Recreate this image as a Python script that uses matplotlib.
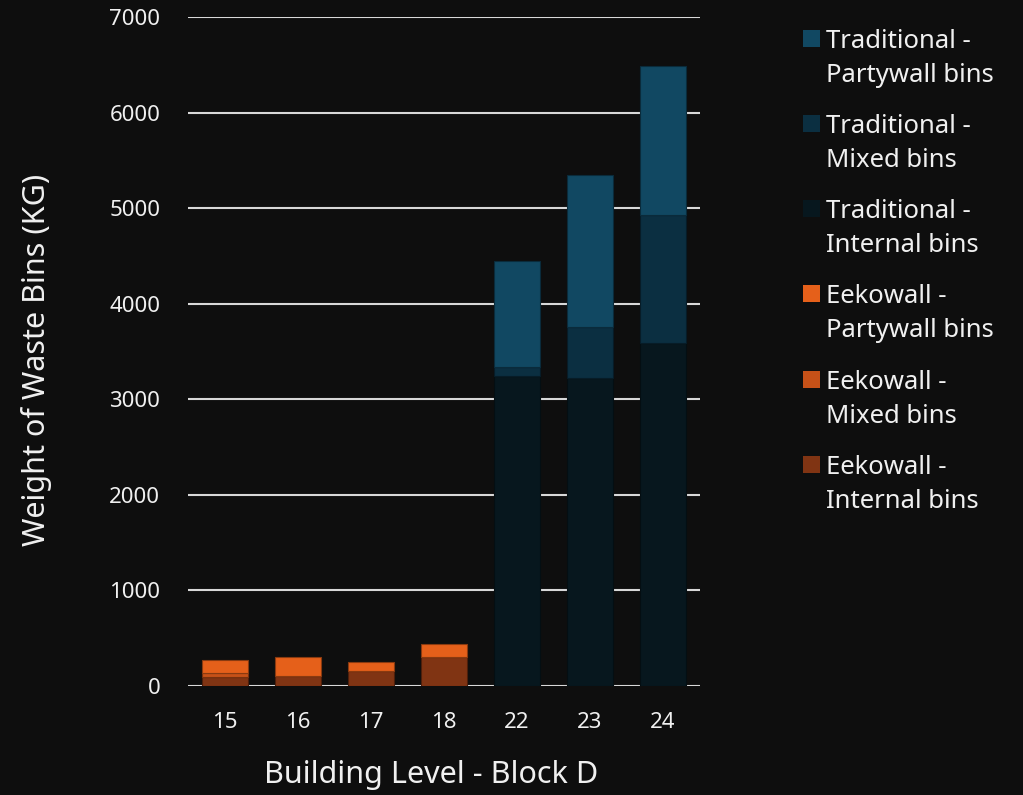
import matplotlib
matplotlib.use("Agg")
import matplotlib.pyplot as plt
from matplotlib.patches import Rectangle
import numpy as np

levels = ["15", "16", "17", "18", "22", "23", "24"]

eek_internal = [97, 100, 157, 300, 0, 0, 0]
eek_mixed = [42, 0, 0, 0, 0, 0, 0]
eek_partywall = [133, 207, 97, 136, 0, 0, 0]

trad_internal = [0, 0, 0, 0, 3243, 3222, 3585]
trad_mixed = [0, 0, 0, 0, 94, 533, 1345]
trad_partywall = [0, 0, 0, 0, 1109, 1590, 1555]

yticks = [0, 1000, 2000, 3000, 4000, 5000, 6000, 7000]

legend_labels = [
    ("Traditional -", "Partywall bins"),
    ("Traditional -", "Mixed bins"),
    ("Traditional -", "Internal bins"),
    ("Eekowall -", "Partywall bins"),
    ("Eekowall -", "Mixed bins"),
    ("Eekowall -", "Internal bins"),
]

BG = "#0e0e0e"
FG = "#f0f0f0"
TRAD_PARTY, TRAD_MIXED, TRAD_INT = "#114862", "#0b2f41", "#07171e"
EEK_PARTY, EEK_MIXED, EEK_INT = "#e5601a", "#c65118", "#803413"
legend_colors = [TRAD_PARTY, TRAD_MIXED, TRAD_INT, EEK_PARTY, EEK_MIXED, EEK_INT]

plt.rcParams["font.family"] = ["Noto Sans", "DejaVu Sans"]

W, H = 1023, 795
fig = plt.figure(figsize=(W / 100, H / 100), dpi=100, facecolor=BG)
ax = fig.add_axes([188 / W, 1 - 686 / H, 512 / W, 669 / H])
ax.set_facecolor(BG)

x = np.arange(len(levels))
w = 0.64


def stack(vals_list, cols):
    bottom = np.zeros(len(levels))
    for vals, c in zip(vals_list, cols):
        v = np.array(vals, dtype=float)
        r, g, b, _ = matplotlib.colors.to_rgba(c)
        edge = (r * 0.6, g * 0.6, b * 0.6, 1)
        ax.bar(x, v, w, bottom=bottom, color=c,
               edgecolor=[edge if vv > 0 else (0, 0, 0, 0) for vv in v],
               linewidth=0.8, zorder=3)
        bottom += v


stack([eek_internal, eek_mixed, eek_partywall], [EEK_INT, EEK_MIXED, EEK_PARTY])
stack([trad_internal, trad_mixed, trad_partywall], [TRAD_INT, TRAD_MIXED, TRAD_PARTY])

ax.set_xlim(-0.507, len(levels) - 0.493)
ax.set_ylim(0, 7000)
ax.set_yticks(yticks)
ax.set_xticks(x)
ax.set_xticklabels(levels)
ax.tick_params(axis="both", colors=FG, labelsize=16, length=0)
ax.tick_params(axis="y", pad=20)
ax.tick_params(axis="x", pad=19)
ax.yaxis.grid(True, color="#d8d8d8", linewidth=1.5, zorder=0)
ax.set_axisbelow(True)
for s in ax.spines.values():
    s.set_visible(False)

# Axis titles
fig.text(431 / W, 1 - 775 / H, "Building Level - Block D", color=FG, fontsize=22,
         ha="center", va="center")
fig.text(37 / W, 1 - 360 / H, "Weight of Waste Bins (KG)", color=FG, fontsize=22,
         rotation=90, ha="center", va="center")

# Legend: square swatch beside a two-line label
for i, ((l1, l2), c) in enumerate(zip(legend_labels, legend_colors)):
    yc = 38 + 85.3 * i
    fig.add_artist(Rectangle((803 / W, 1 - (yc + 8.5) / H), 17 / W, 17 / H,
                             transform=fig.transFigure, facecolor=c, edgecolor="none"))
    fig.text(826 / W, 1 - yc / H, l1, color=FG, fontsize=18.5, ha="left", va="center_baseline")
    fig.text(826 / W, 1 - (yc + 34) / H, l2, color=FG, fontsize=18.5, ha="left", va="center_baseline")

fig.savefig("out.png", dpi=100, facecolor=BG)
